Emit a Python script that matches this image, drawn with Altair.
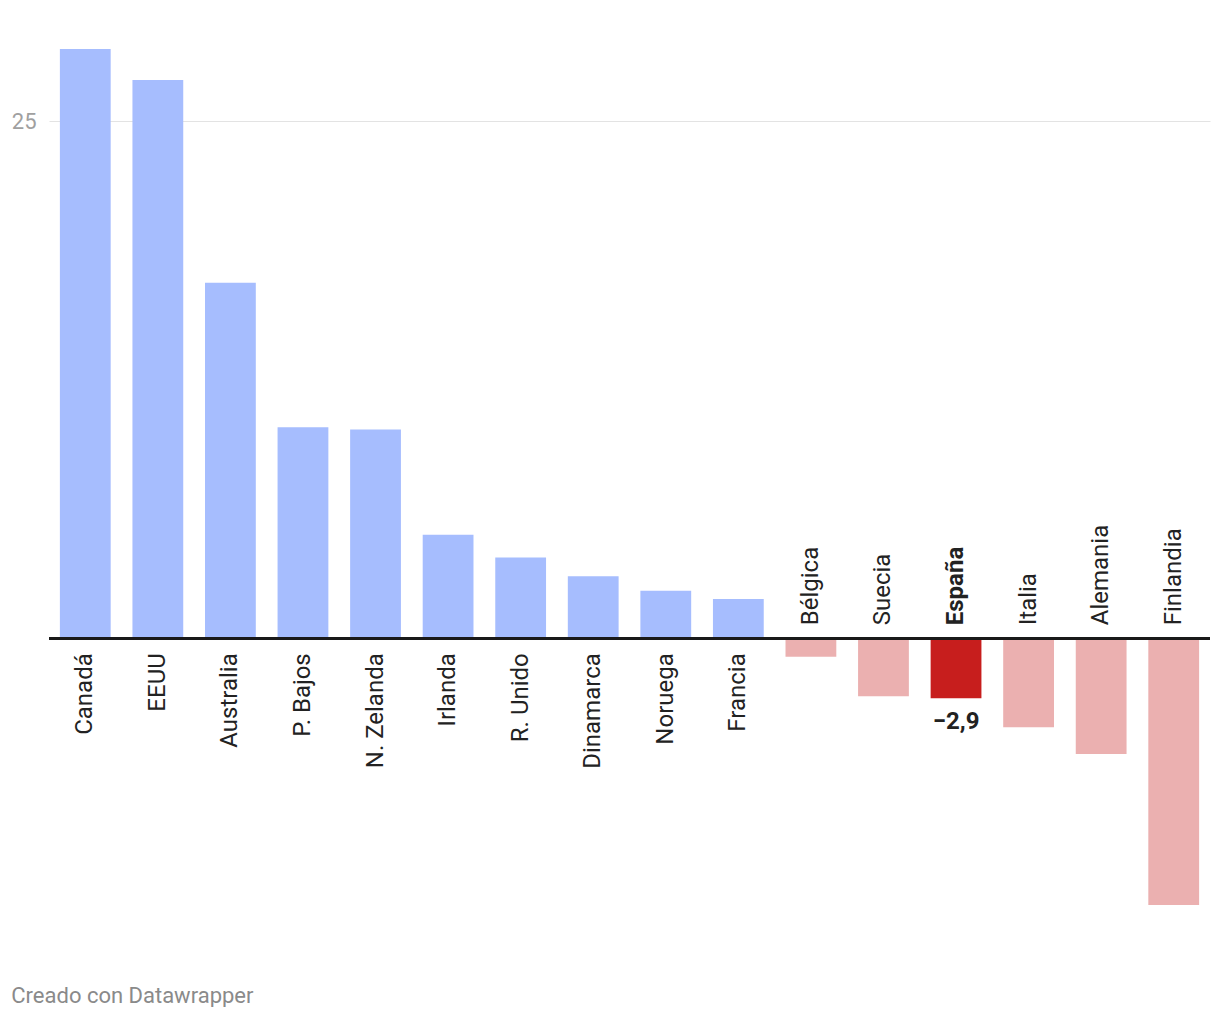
import altair as alt
import pandas as pd

countries = ["Canadá", "EEUU", "Australia", "P. Bajos", "N. Zelanda", "Irlanda",
             "R. Unido", "Dinamarca", "Noruega", "Francia", "Bélgica", "Suecia",
             "España", "Italia", "Alemania", "Finlandia"]
values = [28.5, 27.0, 17.2, 10.2, 10.1, 5.0, 3.9, 3.0, 2.3, 1.9,
          -0.9, -2.8, -2.9, -4.3, -5.6, -12.9]
highlight = "España"
highlight_label = "−2,9"

df = pd.DataFrame({"pais": countries, "valor": values})
df["grupo"] = ["pos" if v >= 0 else "neg" for v in values]
df.loc[df["pais"] == highlight, "grupo"] = "hl"
df["etiqueta"] = ["" for _ in values]
df.loc[df["pais"] == highlight, "etiqueta"] = highlight_label

FONT = "Roboto"
LAB = 24

x = alt.X("pais:N", sort=countries, axis=None,
          scale=alt.Scale(paddingInner=0.3, paddingOuter=0.15))
y_scale = alt.Scale(domain=[-13, 28.55], nice=False, zero=False)

base = alt.Chart(df)

bars = base.mark_bar().encode(
    x=x,
    y=alt.Y("valor:Q", scale=y_scale,
            axis=alt.Axis(values=[25], title=None, domain=False, ticks=False,
                          grid=True, gridColor="#e3e3e3", gridWidth=1,
                          labelColor="#a0a0a0", labelFontSize=22, labelFont=FONT,
                          labelPadding=13)),
    color=alt.Color("grupo:N", legend=None,
                    scale=alt.Scale(domain=["pos", "neg", "hl"],
                                    range=["#a6bdfe", "#ebb0b0", "#c71e1d"])),
)

zero = base.mark_rule(color="#1a1a1a", strokeWidth=2).encode(
    y=alt.datum(0)
)

lab_pos = base.transform_filter("datum.valor >= 0").mark_text(
    angle=270, align="right", baseline="middle", dx=-15,
    fontSize=LAB, font=FONT, color="#222222"
).encode(x=x, y=alt.datum(0), text="pais:N")

lab_neg = base.transform_filter(f"datum.valor < 0 && datum.pais != '{highlight}'").mark_text(
    angle=270, align="left", baseline="middle", dx=13,
    fontSize=LAB, font=FONT, color="#222222"
).encode(x=x, y=alt.datum(0), text="pais:N")

lab_hl = base.transform_filter(f"datum.pais == '{highlight}'").mark_text(
    angle=270, align="left", baseline="middle", dx=13,
    fontSize=LAB, font=FONT, fontWeight="bold", color="#222222"
).encode(x=x, y=alt.datum(0), text="pais:N")

val_hl = base.transform_filter(f"datum.pais == '{highlight}'").mark_text(
    align="center", baseline="top", dy=12,
    fontSize=LAB, font=FONT, fontWeight="bold", color="#222222"
).encode(x=x, y=alt.Y("valor:Q", scale=y_scale), text="etiqueta:N")

chart = alt.layer(bars, zero, lab_pos, lab_neg, lab_hl, val_hl).properties(
    width=1161, height=859,
    autosize=alt.AutoSizeParams(type="none"),
    padding={"left": 41, "top": 40, "right": 2, "bottom": 100},
    title=alt.TitleParams(text="Creado con Datawrapper", orient="bottom",
                          anchor="start", frame="bounds", offset=79,
                          fontSize=22, font=FONT, fontWeight="normal",
                          color="#8a8a8a"),
).configure_view(stroke=None)

chart.save("out.html", embed_options={"renderer": "svg", "actions": False})
